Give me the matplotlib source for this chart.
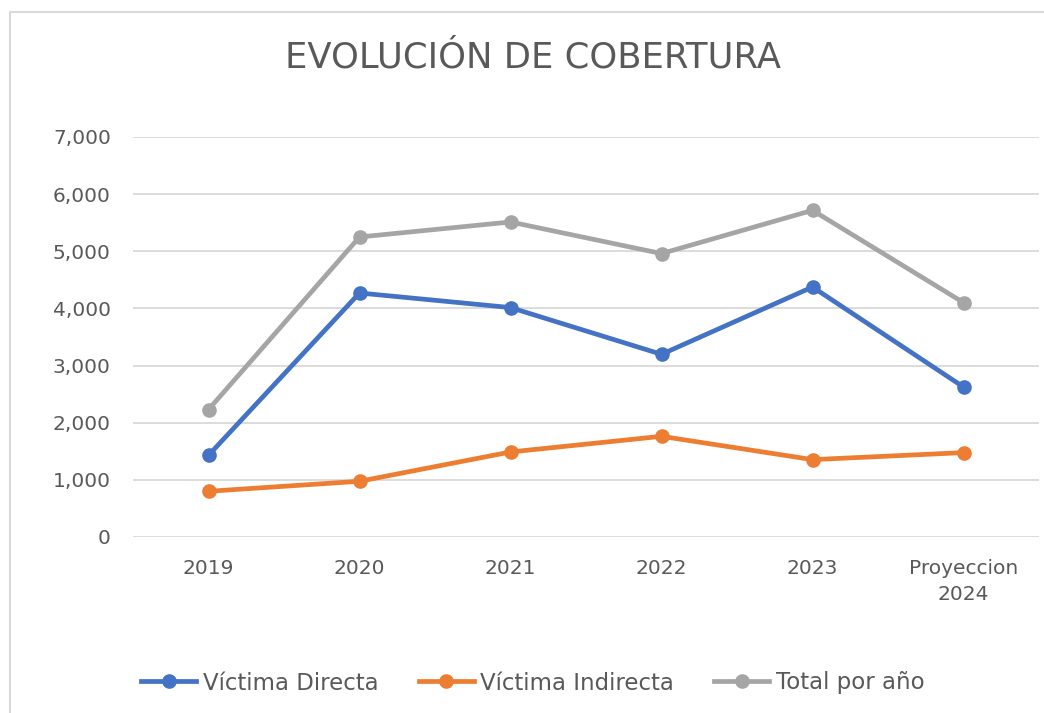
import numpy as np
import matplotlib.pyplot as plt
from matplotlib.lines import Line2D

# data
categories = ['2019', '2020', '2021', '2022', '2023', 'Proyeccion\n2024']
victima_directa = [1430, 4270, 4015, 3197, 4375, 2625]
victima_indirecta = [800, 975, 1488, 1762, 1354, 1477]
total_por_ano = [2230, 5250, 5513, 4960, 5717, 4102]
yticks = [0, 1000, 2000, 3000, 4000, 5000, 6000, 7000]

plt.rcParams['font.family'] = ['DejaVu Sans']
text_color = '#595959'
grid_color = '#d9d9d9'

W, H = 1044, 713
fig = plt.figure(figsize=(W / 100, H / 100), dpi=100)
ax = fig.add_axes([133 / W, 1 - 537 / H, 906 / W, 400 / H])

x = np.arange(len(categories))
series = [
    ('Víctima Directa', victima_directa, '#4472c4'),
    ('Víctima Indirecta', victima_indirecta, '#ed7d31'),
    ('Total por año', total_por_ano, '#a5a5a5'),
]
for name, vals, col in series:
    ax.plot(x, vals, color=col, lw=3.4, marker='o', ms=9.5,
            solid_capstyle='round', label=name, zorder=3)

ax.set_xlim(-0.5, len(categories) - 0.5)
ax.set_ylim(0, 7000)
ax.set_yticks(yticks)
ax.set_yticklabels([f'{v:,}' for v in yticks])
ax.set_xticks(x)
ax.set_xticklabels(categories, linespacing=1.45)
ax.yaxis.grid(True, color=grid_color, lw=1.3)
ax.set_axisbelow(True)
for s in ax.spines.values():
    s.set_visible(False)
ax.tick_params(length=0, labelsize=14.5, colors=text_color)
ax.tick_params(axis='y', pad=16)
ax.tick_params(axis='x', pad=16)

fig.text(533 / W, 1 - 57 / H, 'EVOLUCIÓN DE COBERTURA', ha='center', va='center',
         fontsize=25.5, color=text_color)

handles = [Line2D([], [], color=c, lw=3.4, marker='o', ms=9.5) for _, _, c in series]
fig.legend(handles, [s[0] for s in series], loc='center', bbox_to_anchor=(533 / W, 1 - 683 / H),
           ncol=3, frameon=False, fontsize=16.5, labelcolor=text_color,
           handlelength=2.4, handletextpad=0.3, columnspacing=1.75)

# chart border (partially visible in the reference)
fig.add_artist(Line2D([10 / W, 10 / W], [0, 1 - 12 / H], color=grid_color, lw=1.5,
                      transform=fig.transFigure))
fig.add_artist(Line2D([10 / W, 1.01], [1 - 12 / H, 1 - 12 / H], color=grid_color, lw=1.5,
                      transform=fig.transFigure))

fig.savefig('out.png', dpi=100)
